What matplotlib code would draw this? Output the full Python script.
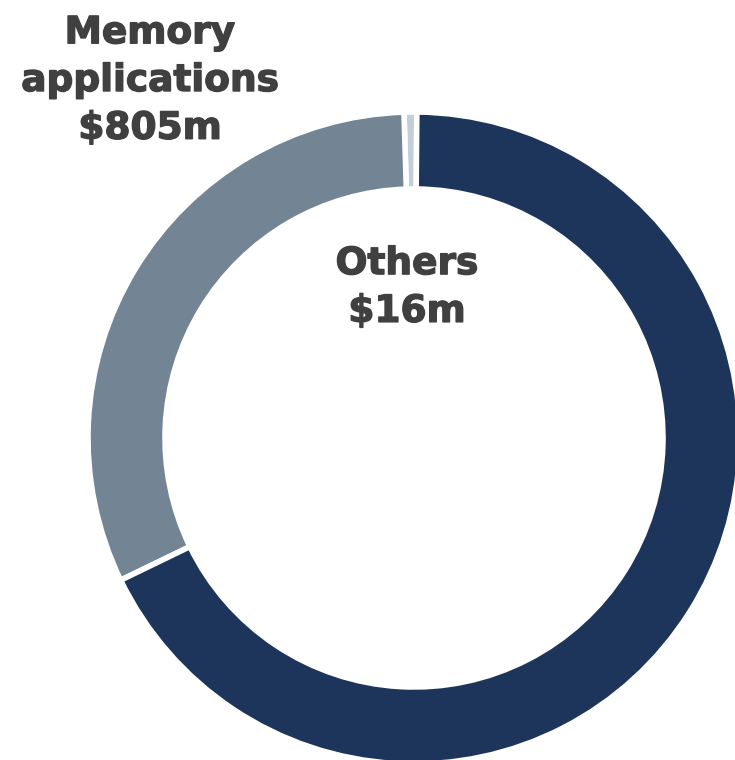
import matplotlib
matplotlib.use("Agg")
import matplotlib.pyplot as plt
import matplotlib.patheffects as pe

# segment data (counterclockwise from the top)
segments = ["Others", "Memory applications", "Other segment"]
values_m = [16, 805, 1719]
colors = ["#C3CEDB", "#738494", "#1D355B"]

W, H = 735, 760
cx, cy = 414, H - 438
r_out, r_in = 326, 249

fig = plt.figure(figsize=(W / 100, H / 100), dpi=100)
ax = fig.add_axes([0, 0, 1, 1])

ax.pie(values_m, colors=colors, startangle=89.5, counterclock=True,
       center=(cx, cy), radius=r_out,
       wedgeprops=dict(width=r_out - r_in, edgecolor="white", linewidth=4))

ax.set_xlim(0, W)
ax.set_ylim(0, H)
ax.set_aspect("equal")
ax.axis("off")

# slight stroke to get closer to the heavy label face
heavy = [pe.withStroke(linewidth=1.0, foreground="#404040")]
txt = dict(fontsize=27, fontweight="bold", color="#404040",
           ha="center", va="center", family="DejaVu Sans", linespacing=1.42,
           path_effects=heavy)
ax.text(150, H - 81, "Memory\napplications\n$%dm" % values_m[1], **txt)
ax.text(407, H - 288, "Others\n$%dm" % values_m[0], **txt)

fig.savefig("out.png", dpi=100)
